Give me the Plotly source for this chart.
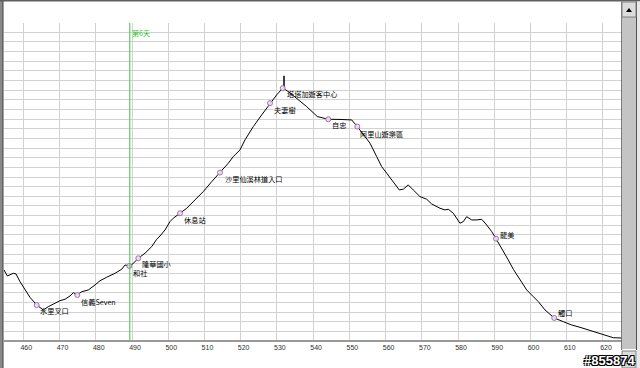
import plotly.graph_objects as go

# ---- data (km along route, elevation m) ----
route_km = [454.67, 455.58, 457.24, 457.99, 459.09, 460.47, 461.85, 463.70, 465.52, 466.90,
            468.75, 470.13, 471.51, 472.89, 473.80, 474.90, 476.12, 477.94, 479.79, 481.17,
            483.02, 485.31, 487.16, 488.07, 489.26, 490.20, 491.74, 493.59, 495.44, 496.82,
            497.73, 499.11, 500.49, 501.40, 503.25, 505.10, 507.39, 509.68, 512.00, 514.29,
            516.58, 517.96, 519.81, 521.19, 523.48, 525.80, 528.09, 529.94, 531.60, 531.93,
            531.96, 531.99, 533.14, 535.46, 538.22, 541.15, 544.18, 547.41, 550.64, 552.19,
            553.84, 555.69, 557.54, 558.92, 560.30, 562.12, 563.78, 564.88, 566.26, 567.64,
            569.49, 571.34, 572.72, 575.01, 576.39, 577.30, 578.68, 580.53, 581.45, 582.38,
            583.76, 585.14, 586.52, 587.90, 589.29, 590.47, 592.05, 593.87, 595.25, 597.10,
            598.95, 600.77, 602.15, 604.00, 606.54, 609.05, 611.37, 613.66, 615.95, 618.71,
            621.03, 622.85, 625.17]
elevation_m = [736, 674, 702, 695, 615, 529, 453, 373, 322, 356,
               391, 418, 433, 467, 501, 477, 511, 529, 581, 625,
               661, 702, 744, 788, 778, 799, 858, 910, 978, 1055,
               1089, 1151, 1238, 1273, 1325, 1376, 1463, 1549, 1652, 1746,
               1843, 1912, 1981, 2085, 2223, 2344, 2466, 2552, 2621, 2624,
               2749, 2614, 2586, 2517, 2430, 2327, 2299, 2297, 2292, 2223,
               2137, 2051, 1912, 1808, 1740, 1652, 1566, 1574, 1618, 1566,
               1497, 1470, 1421, 1376, 1359, 1366, 1325, 1221, 1238, 1289,
               1255, 1255, 1262, 1203, 1134, 1061, 962, 840, 744, 633,
               529, 460, 408, 322, 239, 200, 166, 142, 114, 80,
               52, 34, 31]

waypoint_names = ["水里叉口", "信義Seven", "和社", "隆華國小", "休息站", "沙里仙溪林道入口",
                  "夫妻樹", "塔塔加遊客中心", "自忠", "阿里山遊樂區", "龍美", "觸口"]
waypoint_km = [463.70, 474.90, 489.26, 491.74, 503.25, 514.29,
               528.09, 531.60, 544.18, 552.19, 590.47, 606.54]
waypoint_elev = [373, 477, 778, 858, 1325, 1746, 2466, 2621, 2299, 2223, 1061, 239]

day_marker_km = 489.4
day_marker_text = "第6天"
x_ticks = [460, 470, 480, 490, 500, 510, 520, 530, 540, 550, 560, 570, 580, 590, 600, 610, 620]
watermark = "#855874"

# label offsets (pixels) for each waypoint label
label_dx = [1, 1.5, 1.5, 2, 2, 2.5, 2.5, 2.5, 2, 1, 2, 2]
label_dy = [-6, -7, -7.5, -5.5, -7, -6, -7, -6, -6, -7, 3.5, 5]

W, H = 640, 368
def px(x):
    return x / W
def py(y):
    return 1 - y / H

fig = go.Figure()
fig.add_trace(go.Scatter(x=route_km, y=elevation_m, mode="lines",
                         line=dict(color="#000000", width=1), hoverinfo="skip"))
fig.add_trace(go.Scatter(x=waypoint_km, y=waypoint_elev, mode="markers",
                         marker=dict(symbol="circle", size=5, color="rgba(240,225,240,0.9)",
                                     line=dict(color="#a070b0", width=1)),
                         hoverinfo="skip"))

annotations = []
for name, xk, ye, dx, dy in zip(waypoint_names, waypoint_km, waypoint_elev, label_dx, label_dy):
    annotations.append(dict(x=xk, y=ye, xref="x", yref="y", text=name, showarrow=False,
                            xanchor="left", yanchor="middle", xshift=dx, yshift=dy,
                            font=dict(family="Noto Sans CJK TC", size=7.2, color="#000000")))
annotations.append(dict(x=day_marker_km, y=3300, xref="x", yref="y", text=day_marker_text,
                        showarrow=False, xanchor="left", yanchor="top", xshift=0, yshift=-3,
                        font=dict(family="Noto Sans CJK TC", size=7, color="#30c030")))
annotations.append(dict(x=px(609), y=py(360), xref="paper", yref="paper", text="<b>" + watermark + "</b>",
                        showarrow=False, xanchor="center", yanchor="middle",
                        font=dict(family="Liberation Sans", size=13, color="#ffffff",
                                  shadow="1px 1px 0 #000, -1px -1px 0 #000, 1px -1px 0 #000, -1px 1px 0 #000")))

shapes = [
    # day marker line
    dict(type="line", xref="x", yref="y", x0=day_marker_km, x1=day_marker_km, y0=0, y1=3300,
         line=dict(color="#40c040", width=1)),
    # bottom axis line
    dict(type="line", xref="paper", yref="paper", x0=px(4), x1=px(622), y0=py(341), y1=py(341),
         line=dict(color="#999999", width=2)),
    # window left border
    dict(type="rect", xref="paper", yref="paper", x0=0, x1=px(3), y0=0, y1=1,
         fillcolor="#8a8a8a", line=dict(width=0)),
    dict(type="line", xref="paper", yref="paper", x0=px(3), x1=px(3), y0=0, y1=1,
         line=dict(color="#404040", width=1)),
    # window top border
    dict(type="rect", xref="paper", yref="paper", x0=0, x1=1, y0=py(1.5), y1=1,
         fillcolor="#606060", line=dict(width=0)),
    # plot right frame
    dict(type="line", xref="paper", yref="paper", x0=px(621.7), x1=px(621.7), y0=py(350), y1=py(1.5),
         line=dict(color="#606060", width=1)),
    # scrollbar track
    dict(type="rect", xref="paper", yref="paper", x0=px(622), x1=px(636), y0=py(349), y1=py(17),
         fillcolor="#c4c4c4", line=dict(width=0)),
    dict(type="line", xref="paper", yref="paper", x0=px(636.5), x1=px(636.5), y0=py(350), y1=py(1.5),
         line=dict(color="#505050", width=1)),
    dict(type="rect", xref="paper", yref="paper", x0=px(637), x1=1, y0=0, y1=py(1.5),
         fillcolor="#e8e8e8", line=dict(width=0)),
    # up button
    dict(type="rect", xref="paper", yref="paper", x0=px(622), x1=px(636), y0=py(17), y1=py(2),
         fillcolor="#dcdcdc", line=dict(color="#808080", width=1)),
    dict(type="path", xref="paper", yref="paper",
         path="M {} {} L {} {} L {} {} Z".format(px(626), py(12), px(632), py(12), px(629), py(8)),
         fillcolor="#000000", line=dict(width=0)),
    # down button (bottom)
    dict(type="rect", xref="paper", yref="paper", x0=px(622), x1=px(636), y0=0, y1=py(351),
         fillcolor="#dcdcdc", line=dict(color="#808080", width=1)),
    dict(type="path", xref="paper", yref="paper",
         path="M {} {} L {} {} L {} {} Z".format(px(626), py(361), px(632), py(361), px(629), py(366)),
         fillcolor="#000000", line=dict(width=0)),
]

fig.update_layout(
    width=W, height=H, autosize=False,
    margin=dict(l=0, r=0, t=0, b=0, pad=0),
    paper_bgcolor="#ffffff", plot_bgcolor="#ffffff",
    showlegend=False,
    annotations=annotations,
    shapes=shapes,
    xaxis=dict(domain=[px(4), px(621.7)], range=[454.67, 625.17],
               tickmode="array", tickvals=x_ticks, ticktext=[str(t) for t in x_ticks],
               showgrid=True, gridcolor="#d2d2d2", gridwidth=1,
               zeroline=False, showline=False, ticks="",
               ticklabelshift=3, ticklabelstandoff=1,
               tickfont=dict(family="Liberation Sans", size=7, color="#303030"),
               automargin=False, fixedrange=True),
    yaxis=dict(domain=[1 - 341 / H, 1 - 22.7 / H], range=[0, 3300],
               dtick=100, tick0=0, showgrid=True, gridcolor="#d2d2d2", gridwidth=1,
               zeroline=False, showline=False, showticklabels=False, ticks="",
               automargin=False, fixedrange=True),
)

fig.write_html("out.html", config={"staticPlot": True},
               post_script="document.body.style.margin='0';document.body.style.overflow='hidden';")
